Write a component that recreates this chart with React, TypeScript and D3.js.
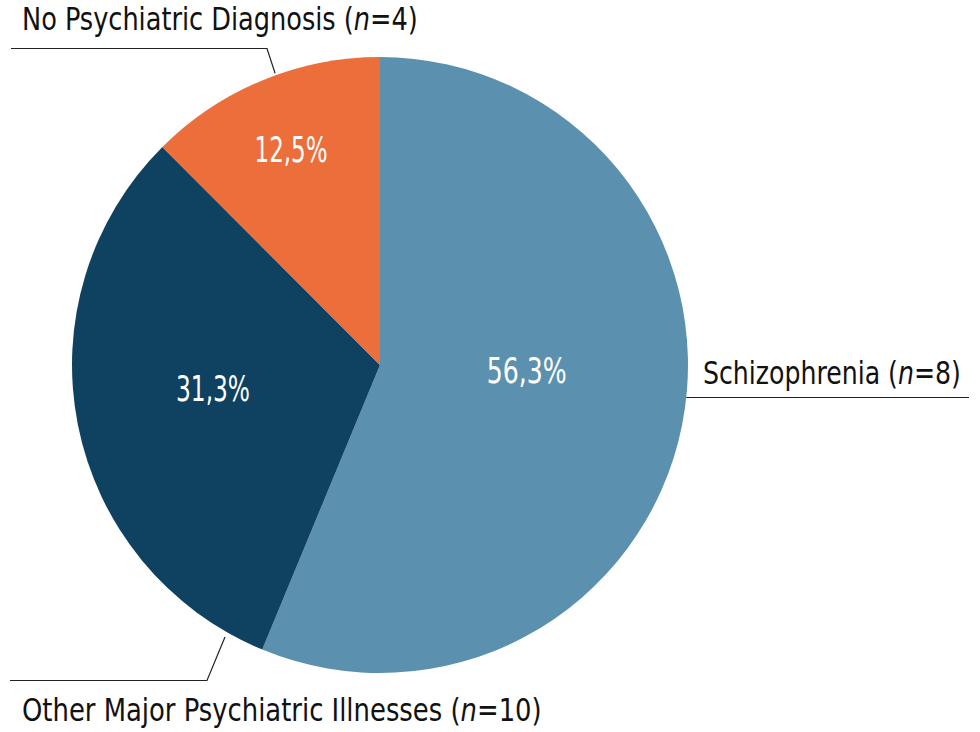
import React, { useLayoutEffect, useRef } from "react";
import * as d3 from "d3";

const categories = ["Schizophrenia", "Other Major Psychiatric Illnesses", "No Psychiatric Diagnosis"];
const counts = [8, 10, 4];
const percents = [56.3, 31.3, 12.5];
const colors = ["#5B91AE", "#0E4260", "#EC6E3B"];

const W = 980;
const H = 732;
const cx = 380;
const cy = 365;
const R = 308;
const FONT = "'DejaVu Sans Condensed', 'Liberation Sans Narrow', sans-serif";

// label placement inside each slice: [fraction of slice angle, fraction of radius]
const pctPlacement: [number, number][] = [
  [0.457, 0.477],
  [0.526, 0.548],
  [0.5, 0.755],
];
const pctWidths = [80, 74, 73];

export default function App() {
  const refs = useRef<(SVGTextElement | null)[]>([]);
  const targets = useRef<number[]>([]);
  const centered = useRef<boolean[]>([]);

  const pie = d3
    .pie<number>()
    .sort(null)
    .value((d) => d)
    .startAngle(0)
    .endAngle(2 * Math.PI);
  const arcs = pie(percents);
  const arcGen = d3.arc<d3.PieArcDatum<number>>().innerRadius(0).outerRadius(R);
  const fmt = (v: number) => d3.format(".1f")(v).replace(".", ",") + "%";

  const polar = (angle: number, r: number): [number, number] => [
    cx + r * Math.sin(angle),
    cy - r * Math.cos(angle),
  ];
  const at = (i: number, f: number) => arcs[i].startAngle + (arcs[i].endAngle - arcs[i].startAngle) * f;

  const topEdge = polar(at(2, 0.56), R + 2);
  const botEdge = polar(at(1, 0.064), R + 5);
  const rightX = cx + Math.sqrt(R * R - (397.5 - cy) * (397.5 - cy));

  useLayoutEffect(() => {
    refs.current.forEach((el, i) => {
      if (!el) return;
      const bb = el.getBBox();
      const target = targets.current[i];
      if (!bb.width || !target) return;
      const s = target / bb.width;
      const ax = centered.current[i] ? bb.x + bb.width / 2 : bb.x;
      el.setAttribute("transform", `translate(${ax},0) scale(${s},1) translate(${-ax},0)`);
    });
  }, []);

  const labelTexts = [
    { i: 2, x: 22, y: 30, w: 396 },
    { i: 1, x: 22, y: 721, w: 520 },
    { i: 0, x: 703, y: 384, w: 258 },
  ];

  return (
    <svg
      width={W}
      height={H}
      viewBox={`0 0 ${W} ${H}`}
      style={{ position: "absolute", left: 0, top: 0, background: "#fff" }}
    >
      <g>
        {arcs.map((a, i) => (
          <path key={i} d={arcGen(a) || ""} transform={`translate(${cx},${cy})`} fill={colors[i]} />
        ))}
        {arcs.map((a, i) => {
          const [fa, fr] = pctPlacement[i];
          const [x, y] = polar(at(i, fa), R * fr);
          targets.current[3 + i] = pctWidths[i];
          centered.current[3 + i] = true;
          return (
            <text
              key={i}
              ref={(el) => {
                refs.current[3 + i] = el;
              }}
              x={x}
              y={y + 12}
              textAnchor="middle"
              fill="#fff"
              fontFamily={FONT}
              fontSize={36}
            >
              {fmt(percents[i])}
            </text>
          );
        })}
      </g>
      <polyline
        points={`11,48.5 267,48.5 ${topEdge[0]},${topEdge[1]}`}
        fill="none"
        stroke="#222"
        strokeWidth={1.2}
      />
      <polyline
        points={`10,680.5 207,680.5 ${botEdge[0]},${botEdge[1]}`}
        fill="none"
        stroke="#222"
        strokeWidth={1.2}
      />
      <line x1={rightX} y1={397.5} x2={969} y2={397.5} stroke="#222" strokeWidth={1.2} />
      {labelTexts.map((l, k) => {
        targets.current[k] = l.w;
        centered.current[k] = false;
        return (
          <text
            key={k}
            ref={(el) => {
              refs.current[k] = el;
            }}
            x={l.x}
            y={l.y}
            fontFamily={FONT}
            fontSize={32}
            fill="#111"
          >
            {categories[l.i]} (<tspan fontStyle="italic">n</tspan>={counts[l.i]})
          </text>
        );
      })}
    </svg>
  );
}
